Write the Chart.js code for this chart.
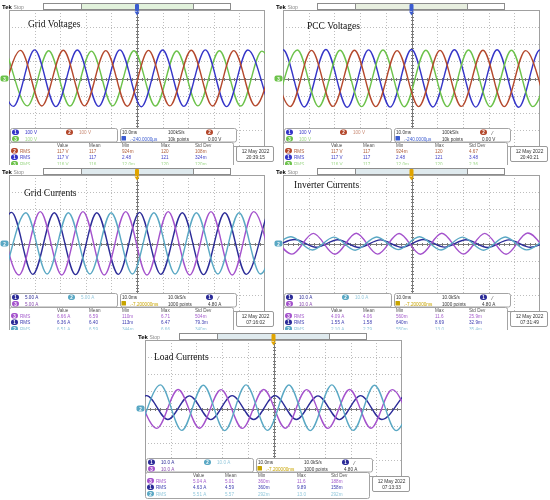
<!DOCTYPE html>
<html>
<head>
<meta charset="utf-8">
<script src="https://cdn.jsdelivr.net/npm/chart.js@4/dist/chart.umd.min.js"></script>
<style>
  body { margin: 0; background: #fff; }
  #wrap { position: relative; width: 550px; height: 500px; overflow: hidden; background: #fff; }
  canvas { position: absolute; }
</style>
</head>
<body>
<div id="wrap">
  <canvas id="p1" width="275" height="165" style="left:0;top:0"></canvas>
  <canvas id="p2" width="276" height="165" style="left:274px;top:0"></canvas>
  <canvas id="p3" width="275" height="165" style="left:0;top:165px"></canvas>
  <canvas id="p4" width="276" height="165" style="left:274px;top:165px"></canvas>
  <canvas id="p5" width="276" height="170" style="left:136px;top:330px"></canvas>
</div>
<script>
// time axis: 10.0 ms/div, 10 divisions
const timeMin = -50, timeMax = 50;

// waveform extrema, [time ms, value]
// Grid Voltages (V)
const gridV2 = [[-53.8,-160],[-45.5,164],[-37.2,-161],[-28.8,165],[-20.5,-160],[-12.2,163],[-3.8,-162],[4.5,164],[12.8,-160],[21.2,165],[29.5,-161],[37.8,163],[46.2,-160],[54.5,164]];
const gridV1 = [[-56.7,166],[-48.3,-163],[-40.0,167],[-31.7,-164],[-23.3,166],[-15.0,-163],[-6.7,167],[1.7,-165],[10.0,166],[18.3,-163],[26.7,167],[35.0,-164],[43.3,166],[51.7,-163]];
const gridV3 = [[-51.2,161],[-42.8,-160],[-34.5,162],[-26.2,-161],[-17.8,160],[-9.5,-160],[-1.2,162],[7.2,-161],[15.5,161],[23.8,-160],[32.2,162],[40.5,-161],[48.8,160],[57.2,-160]];

// PCC Voltages (V)
const pccV1 = [[-58.3,-167],[-50.0,168],[-41.7,-166],[-33.3,169],[-25.0,-168],[-16.7,167],[-8.3,-167],[0.0,169],[8.3,-166],[16.7,168],[25.0,-167],[33.3,168],[41.7,-168],[50.0,167],[58.3,-166]];
const pccV3 = [[-52.8,-164],[-44.4,166],[-36.1,-165],[-27.8,165],[-19.4,-164],[-11.1,166],[-2.8,-165],[5.6,165],[13.9,-164],[22.2,166],[30.6,-165],[38.9,165],[47.2,-164],[55.6,166]];
const pccV2 = [[-55.6,163],[-47.2,-164],[-38.9,164],[-30.6,-163],[-22.2,165],[-13.9,-164],[-5.6,163],[2.8,-164],[11.1,164],[19.4,-163],[27.8,165],[36.1,-164],[44.4,163],[52.8,-164]];

// Grid Currents (A)
const gridI1 = [[-57.3,-9.0],[-49.0,9.1],[-40.7,-9.0],[-32.3,9.0],[-24.0,-9.1],[-15.7,9.0],[-7.3,-9.0],[1.0,9.1],[9.3,-9.0],[17.7,9.0],[26.0,-9.1],[34.3,9.0],[42.7,-9.0],[51.0,9.1]];
const gridI2 = [[-51.8,-8.9],[-43.4,9.0],[-35.1,-8.9],[-26.8,9.0],[-18.4,-8.9],[-10.1,9.0],[-1.8,-8.9],[6.6,9.0],[14.9,-8.9],[23.2,9.0],[31.6,-8.9],[39.9,9.0],[48.2,-8.9],[56.6,9.0]];
const gridI3 = [[-54.4,9.3],[-46.1,-9.2],[-37.8,9.3],[-29.4,-9.2],[-21.1,9.3],[-12.8,-9.2],[-4.4,9.3],[3.9,-9.2],[12.2,9.3],[20.6,-9.2],[28.9,9.3],[37.2,-9.2],[45.6,9.3],[53.9,-9.2]];

// Inverter Currents (A)
const invI3 = [[-54.9,6.0],[-46.5,-6.2],[-38.2,5.9],[-29.8,-6.3],[-21.5,6.0],[-13.2,-6.2],[-4.8,5.8],[3.5,-6.3],[11.8,6.0],[20.2,-6.2],[28.5,5.9],[36.8,-6.3],[45.2,6.1],[53.5,-6.2]];
const invI2 = [[-55.2,-3.6],[-46.9,3.9],[-38.5,-3.8],[-30.2,3.7],[-21.9,-3.9],[-13.5,3.8],[-5.2,-3.6],[3.1,3.9],[11.5,-3.8],[19.8,3.7],[28.1,-3.9],[36.5,3.8],[44.8,-3.7],[53.1,3.9]];
const invI1 = [[-53.7,-2.1],[-45.4,2.3],[-37.1,-2.2],[-28.7,2.2],[-20.4,-2.3],[-12.1,2.1],[-3.7,-2.2],[4.6,2.3],[12.9,-2.1],[21.2,2.2],[29.6,-2.3],[37.9,2.1],[46.3,-2.2],[54.6,2.3]];

// Load Currents (A)
const loadI2 = [[-52.3,-12.8],[-44.0,13.8],[-35.7,-12.8],[-27.3,13.6],[-19.0,-12.9],[-10.7,13.8],[-2.3,-12.8],[6.0,13.7],[14.3,-12.9],[22.7,13.8],[31.0,-12.8],[39.3,13.6],[47.7,-12.9],[56.0,13.8]];
const loadI3 = [[-53.8,11.0],[-45.4,-11.6],[-37.1,11.1],[-28.8,-11.5],[-20.4,11.0],[-12.1,-11.6],[-3.8,11.1],[4.6,-11.5],[12.9,11.0],[21.2,-11.6],[29.6,11.1],[37.9,-11.5],[46.2,11.0],[54.6,-11.6]];
const loadI1 = [[-57.7,-6.4],[-49.4,7.5],[-41.1,-6.4],[-32.7,7.4],[-24.4,-6.5],[-16.1,7.5],[-7.7,-6.4],[0.6,7.5],[8.9,-6.4],[17.3,7.4],[25.6,-6.5],[33.9,7.5],[42.2,-6.4],[50.6,7.5]];

// measurement readouts: [Value, Mean, Min, Max, Std Dev]
const gridVMeas = [['117 V','117','924m','120','108m'],['117 V','117','2.48','121','324m'],['116 V','116','12.0m','120','120m']];
const pccVMeas  = [['117 V','117','924m','120','4.67'],['117 V','117','2.48','121','3.48'],['116 V','117','12.0m','120','2.36']];
const gridIMeas = [['6.66 A','6.59','110m','6.71','504m'],['6.36 A','6.40','113m','6.47','79.3m'],['6.51 A','6.59','344m','6.66','340m']];
const invIMeas  = [['4.09 A','4.06','560m','11.6','25.9m'],['1.55 A','1.58','640m','8.69','32.9m'],['2.10 A','2.79','550m','13.0','35.4m']];
const loadIMeas = [['5.04 A','5.01','360m','11.6','188m'],['4.63 A','4.59','360m','9.89','158m'],['5.51 A','5.57','292m','13.0','292m']];
const measHeader = ['Value','Mean','Min','Max','Std Dev'];

// colours
const cRed = '#b4482c', cBlue = '#3535c8', cGreen = '#6cc24a';
const cNavy = '#2c2c98', cTeal = '#5aa8c4', cPurple = '#a452cc';

function txt(ctx, s, x, y, color, font, align) {
  ctx.font = font;
  ctx.fillStyle = color;
  ctx.textAlign = align || 'left';
  ctx.textBaseline = 'alphabetic';
  ctx.fillText(s, x, y);
}

function rbox(ctx, x, y, w, h, r, fill, stroke) {
  ctx.beginPath();
  ctx.roundRect(x, y, w, h, r);
  if (fill) { ctx.fillStyle = fill; ctx.fill(); }
  if (stroke) { ctx.strokeStyle = stroke; ctx.lineWidth = 1; ctx.stroke(); }
}

function badge(ctx, n, x, y, color) {
  rbox(ctx, x, y - 4.5, 7, 5.5, 2.7, color);
  txt(ctx, String(n), x + 3.5, y, '#fff', 'bold 4.5px "Liberation Sans"', 'center');
}

const sans = '"Liberation Sans", Arial, sans-serif';

const scopePlugin = {
  id: 'scope',
  beforeDraw(chart, args, o) {
    const { ctx, chartArea: a, scales: { x, y } } = chart;
    ctx.save();
    ctx.fillStyle = '#fff';
    ctx.fillRect(0, 0, chart.width, chart.height);
    // dotted graticule
    ctx.strokeStyle = '#bdbdbd';
    ctx.lineWidth = 1;
    ctx.setLineDash([1, 2]);
    for (let t = timeMin + 10; t < timeMax; t += 10) {
      if (t === 0) continue;
      const px = Math.round(x.getPixelForValue(t)) + 0.5;
      ctx.beginPath(); ctx.moveTo(px, a.top); ctx.lineTo(px, a.bottom); ctx.stroke();
    }
    for (let k = -3; k <= 3; k++) {
      if (k === 0) continue;
      const py = Math.round(y.getPixelForValue(k * o.vdiv)) + 0.5;
      ctx.beginPath(); ctx.moveTo(a.left, py); ctx.lineTo(a.right, py); ctx.stroke();
    }
    ctx.setLineDash([]);
    // centre cross with minor ticks
    const cx = Math.round(x.getPixelForValue(0)) + 0.5;
    const cy = Math.round(y.getPixelForValue(0)) + 0.5;
    ctx.strokeStyle = '#7a7a7a';
    ctx.beginPath(); ctx.moveTo(cx, a.top); ctx.lineTo(cx, a.bottom); ctx.stroke();
    ctx.beginPath(); ctx.moveTo(a.left, cy); ctx.lineTo(a.right, cy); ctx.stroke();
    for (let t = timeMin + 2; t < timeMax; t += 2) {
      const px = Math.round(x.getPixelForValue(t)) + 0.5;
      ctx.beginPath(); ctx.moveTo(px, cy - 1.5); ctx.lineTo(px, cy + 1.5); ctx.stroke();
    }
    for (let k = -4; k <= 4; k += 0.2) {
      const py = Math.round(y.getPixelForValue(k * o.vdiv)) + 0.5;
      ctx.beginPath(); ctx.moveTo(cx - 1.5, py); ctx.lineTo(cx + 1.5, py); ctx.stroke();
    }
    ctx.strokeStyle = '#a0a0a0';
    ctx.strokeRect(a.left + 0.5, a.top + 0.5, a.width - 1, a.height - 1);
    ctx.restore();
  },
  afterDraw(chart, args, o) {
    const { ctx, chartArea: a, scales: { x, y } } = chart;
    const cx = x.getPixelForValue(0);
    const cy = y.getPixelForValue(0);
    ctx.save();
    // header
    txt(ctx, 'Tek', 2, 9, '#000', 'bold 6px ' + sans);
    txt(ctx, 'Stop', 13.5, 9, '#8a8a8a', '5px ' + sans);
    ctx.fillStyle = '#fff';
    ctx.fillRect(43.5, 3.5, 187, 6);
    ctx.fillStyle = o.barFill;
    ctx.fillRect(81.5, 3.5, 112, 6);
    ctx.strokeStyle = '#8c8c8c';
    ctx.lineWidth = 1;
    ctx.strokeRect(43.5, 3.5, 187, 6);
    ctx.beginPath(); ctx.moveTo(81.5, 3.5); ctx.lineTo(81.5, 9.5); ctx.moveTo(193.5, 3.5); ctx.lineTo(193.5, 9.5); ctx.stroke();
    // trigger position marker
    rbox(ctx, cx - 2, 4, 4, 7, 1, o.trigColor);
    ctx.fillStyle = o.trigColor;
    ctx.beginPath(); ctx.moveTo(cx - 2.5, 11.5); ctx.lineTo(cx + 2.5, 11.5); ctx.lineTo(cx, 15.5); ctx.closePath(); ctx.fill();
    // channel ground marker
    rbox(ctx, 0.5, cy - 3, 8, 6, 2, o.markColor);
    txt(ctx, o.markNum, 4.5, cy + 2, '#fff', 'bold 4.5px ' + sans, 'center');
    // title
    txt(ctx, o.title, o.titleX, o.titleY, '#111', '9.5px "Liberation Serif", "Times New Roman", serif');
    // channel scale box
    rbox(ctx, 10.5, 128.5, 107, 13.5, 2, '#fff', '#a4a4a4');
    o.scaleItems.forEach(s => {
      badge(ctx, s.n, s.x, s.y, s.badge);
      txt(ctx, s.text, s.x + 13, s.y, s.color, '4.6px ' + sans);
    });
    // timebase box
    rbox(ctx, 120.5, 128.5, 116, 13.5, 2, '#fff', '#a4a4a4');
    txt(ctx, '10.0ms', 122, 134, '#333', '4.6px ' + sans);
    txt(ctx, o.rate, 168, 134, '#333', '4.6px ' + sans);
    badge(ctx, o.trigCh.n, 206, 134, o.trigCh.color);
    txt(ctx, '⁄', 218, 134.5, '#333', '5px ' + sans);
    rbox(ctx, 121.5, 136, 4.5, 4.5, 0.5, o.delayColor);
    txt(ctx, o.delay, 127, 140.5, o.delayColor, '4.6px ' + sans);
    txt(ctx, o.points, 168, 140.5, '#333', '4.6px ' + sans);
    txt(ctx, o.level, 208, 140.5, '#333', '4.6px ' + sans);
    // measurement table
    rbox(ctx, 9.5, 142.5, 224, 26, 2, '#fff', '#a4a4a4');
    const colX = [57, 89, 122, 161, 195];
    measHeader.forEach((h, i) => txt(ctx, h, colX[i], 146.5, '#555', '4.6px ' + sans));
    o.rows.forEach((r, j) => {
      const ry = 152.5 + j * 6.5;
      badge(ctx, r.n, 11, ry, r.badge);
      txt(ctx, 'RMS', 20, ry, r.color, '4.6px ' + sans);
      r.vals.forEach((v, i) => txt(ctx, v, colX[i], ry, r.color, '4.6px ' + sans));
    });
    // date box
    rbox(ctx, 236.5, 146.5, 37, 15, 1.5, '#fff', '#9a9a9a');
    txt(ctx, '12 May 2022', 255.5, 152.5, '#333', '4.8px ' + sans, 'center');
    txt(ctx, o.clock, 255.5, 159, '#333', '4.8px ' + sans, 'center');
    ctx.restore();
  }
};

function wave(data, color) {
  return {
    data: data,
    borderColor: color,
    borderWidth: 1.4,
    pointRadius: 0,
    fill: false,
    cubicInterpolationMode: 'monotone'
  };
}

function makePanel(id, series, opts) {
  return new Chart(document.getElementById(id), {
    type: 'line',
    data: { datasets: series },
    options: {
      responsive: false,
      animation: false,
      events: [],
      layout: { padding: { left: 9, right: 10, top: 10, bottom: opts.padBottom } },
      plugins: { legend: { display: false }, tooltip: { enabled: false }, scope: opts },
      scales: {
        x: { type: 'linear', min: timeMin, max: timeMax, display: false },
        y: { type: 'linear', min: -4 * opts.vdiv, max: 4 * opts.vdiv, display: false }
      }
    },
    plugins: [scopePlugin]
  });
}

const lightRed = '#c98a74', lightGreen = '#9fd88a', lightTeal = '#93c8dc';

makePanel('p1', [wave(gridV2, cRed), wave(gridV1, cBlue), wave(gridV3, cGreen)], {
  vdiv: 100, padBottom: 18, title: 'Grid Voltages', titleX: 28, titleY: 27,
  barFill: '#e2f2dc', trigColor: '#3b5bd0', markColor: '#6cc24a', markNum: '3',
  scaleItems: [
    { n: 1, x: 12, y: 134, badge: cBlue, color: cBlue, text: '100 V' },
    { n: 2, x: 66, y: 134, badge: cRed, color: lightRed, text: '100 V' },
    { n: 3, x: 12, y: 140.5, badge: cGreen, color: lightGreen, text: '100 V' }
  ],
  rate: '100kS/s', points: '10k points', level: '0.00 V', trigCh: { n: 2, color: cRed },
  delay: '→-240.0000µs', delayColor: '#3b5bd0',
  rows: [
    { n: 2, badge: cRed, color: '#b0603e', vals: gridVMeas[0] },
    { n: 1, badge: cBlue, color: '#4444c8', vals: gridVMeas[1] },
    { n: 3, badge: cGreen, color: lightGreen, vals: gridVMeas[2] }
  ],
  clock: '20:39:15'
});

makePanel('p2', [wave(pccV2, cRed), wave(pccV3, cGreen), wave(pccV1, cBlue)], {
  vdiv: 100, padBottom: 18, title: 'PCC Voltages', titleX: 33, titleY: 29,
  barFill: '#e8efe0', trigColor: '#3b5bd0', markColor: '#6cc24a', markNum: '3',
  scaleItems: [
    { n: 1, x: 12, y: 134, badge: cBlue, color: cBlue, text: '100 V' },
    { n: 2, x: 66, y: 134, badge: cRed, color: lightRed, text: '100 V' },
    { n: 3, x: 12, y: 140.5, badge: cGreen, color: lightGreen, text: '100 V' }
  ],
  rate: '100kS/s', points: '10k points', level: '0.00 V', trigCh: { n: 2, color: cRed },
  delay: '→-240.0000µs', delayColor: '#3b5bd0',
  rows: [
    { n: 2, badge: cRed, color: '#b0603e', vals: pccVMeas[0] },
    { n: 1, badge: cBlue, color: '#4444c8', vals: pccVMeas[1] },
    { n: 3, badge: cGreen, color: lightGreen, vals: pccVMeas[2] }
  ],
  clock: '20:40:21'
});

makePanel('p3', [wave(gridI2, cTeal), wave(gridI3, cPurple), wave(gridI1, cNavy)], {
  vdiv: 5, padBottom: 18, title: 'Grid Currents', titleX: 24, titleY: 31,
  barFill: '#dfeaee', trigColor: '#e0a400', markColor: cTeal, markNum: '2',
  scaleItems: [
    { n: 1, x: 12, y: 134, badge: cNavy, color: cNavy, text: '5.00 A' },
    { n: 2, x: 68, y: 134, badge: cTeal, color: lightTeal, text: '5.00 A' },
    { n: 3, x: 12, y: 140.5, badge: cPurple, color: '#8a4cb0', text: '5.00 A' }
  ],
  rate: '10.0kS/s', points: '1000 points', level: '4.80 A', trigCh: { n: 1, color: cNavy },
  delay: '→-7.200000ms', delayColor: '#c8a400',
  rows: [
    { n: 3, badge: cPurple, color: '#a45ccc', vals: gridIMeas[0] },
    { n: 1, badge: cNavy, color: '#3c3cb0', vals: gridIMeas[1] },
    { n: 2, badge: cTeal, color: lightTeal, vals: gridIMeas[2] }
  ],
  clock: '07:16:02'
});

makePanel('p4', [wave(invI2, cTeal), wave(invI3, cPurple), wave(invI1, cNavy)], {
  vdiv: 10, padBottom: 18, title: 'Inverter Currents', titleX: 20, titleY: 23,
  barFill: '#dfeaee', trigColor: '#e0a400', markColor: cTeal, markNum: '2',
  scaleItems: [
    { n: 1, x: 12, y: 134, badge: cNavy, color: cNavy, text: '10.0 A' },
    { n: 2, x: 68, y: 134, badge: cTeal, color: lightTeal, text: '10.0 A' },
    { n: 3, x: 12, y: 140.5, badge: cPurple, color: '#8a4cb0', text: '10.0 A' }
  ],
  rate: '10.0kS/s', points: '1000 points', level: '4.80 A', trigCh: { n: 1, color: cNavy },
  delay: '→-7.200000ms', delayColor: '#c8a400',
  rows: [
    { n: 3, badge: cPurple, color: '#a45ccc', vals: invIMeas[0] },
    { n: 1, badge: cNavy, color: '#3c3cb0', vals: invIMeas[1] },
    { n: 2, badge: cTeal, color: lightTeal, vals: invIMeas[2] }
  ],
  clock: '07:31:49'
});

makePanel('p5', [wave(loadI2, cTeal), wave(loadI3, cPurple), wave(loadI1, cNavy)], {
  vdiv: 10, padBottom: 23, title: 'Load Currents', titleX: 18, titleY: 30,
  barFill: '#dfeaee', trigColor: '#e0a400', markColor: cTeal, markNum: '2',
  scaleItems: [
    { n: 1, x: 12, y: 134, badge: cNavy, color: cNavy, text: '10.0 A' },
    { n: 2, x: 68, y: 134, badge: cTeal, color: lightTeal, text: '10.0 A' },
    { n: 3, x: 12, y: 140.5, badge: cPurple, color: '#8a4cb0', text: '10.0 A' }
  ],
  rate: '10.0kS/s', points: '1000 points', level: '4.80 A', trigCh: { n: 1, color: cNavy },
  delay: '→-7.200000ms', delayColor: '#c8a400',
  rows: [
    { n: 3, badge: cPurple, color: '#a45ccc', vals: loadIMeas[0] },
    { n: 1, badge: cNavy, color: '#3c3cb0', vals: loadIMeas[1] },
    { n: 2, badge: cTeal, color: lightTeal, vals: loadIMeas[2] }
  ],
  clock: '07:13:33'
});
</script>
</body>
</html>
